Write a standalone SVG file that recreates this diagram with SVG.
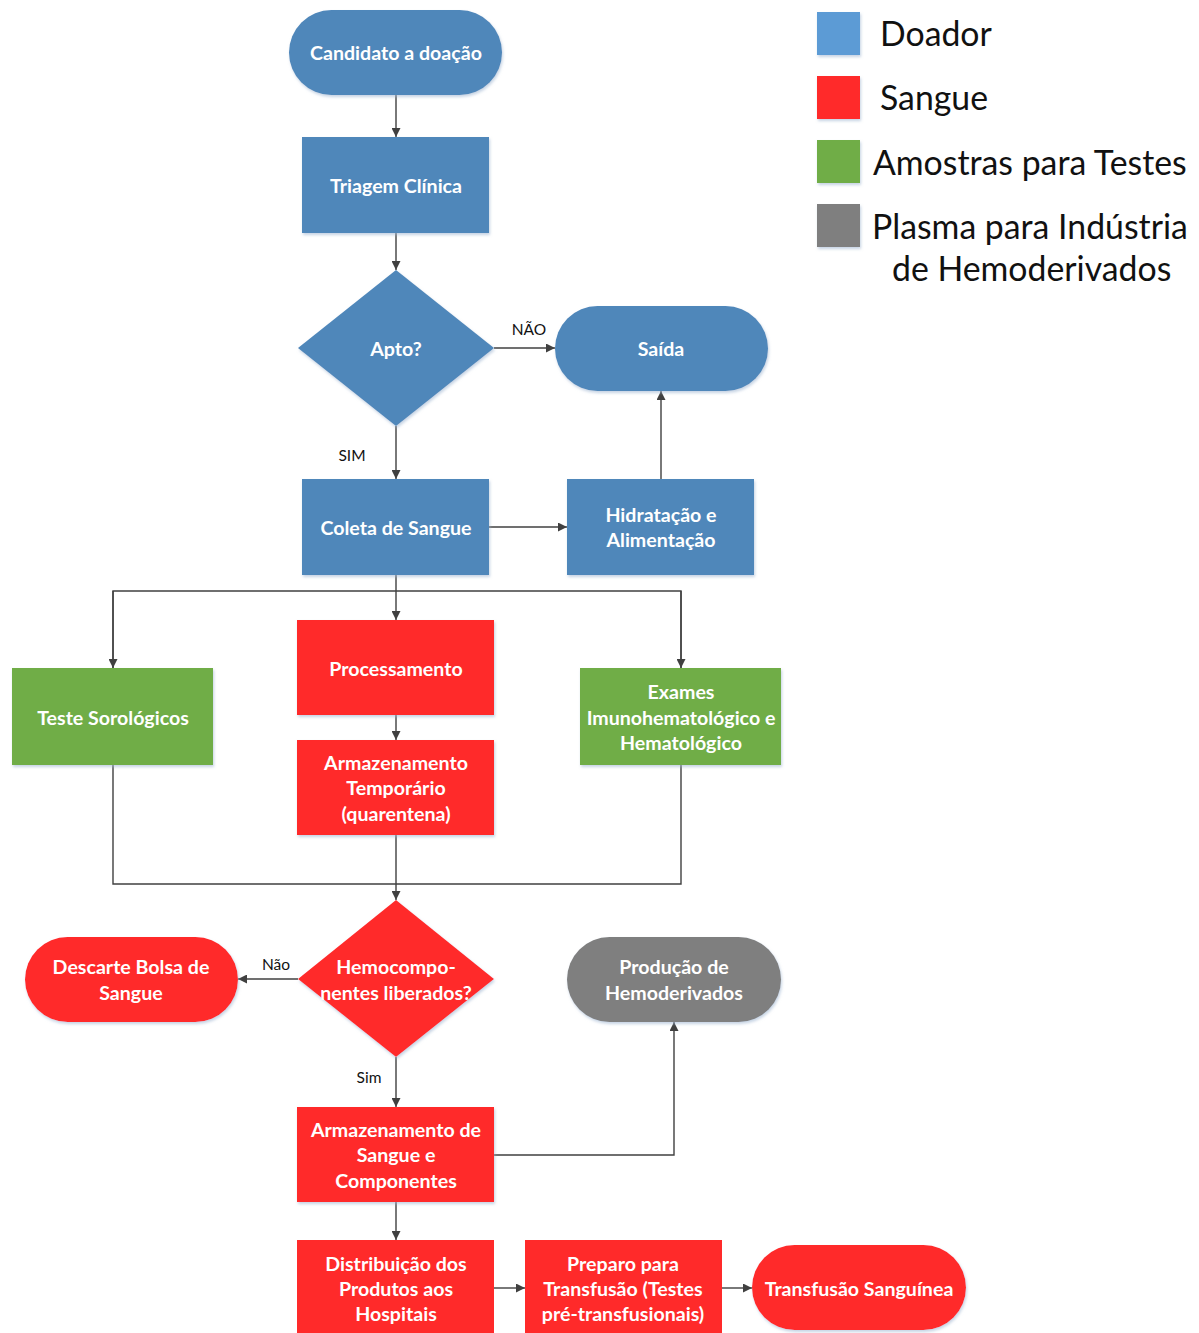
<svg xmlns="http://www.w3.org/2000/svg" width="1199" height="1333" viewBox="0 0 1199 1333">
<style>
.t{font-family:Lato,"Open Sans","Liberation Sans",sans-serif;font-weight:bold;font-size:19.6px;fill:#fff;text-anchor:middle;dominant-baseline:central}
.lbl{font-family:Lato,"Open Sans","Liberation Sans",sans-serif;font-size:15.5px;fill:#111;text-anchor:middle;dominant-baseline:central}
.lg{font-family:Lato,"Open Sans","Liberation Sans",sans-serif;font-size:33.8px;fill:#111;dominant-baseline:central}
.b{fill:#4F87BA}
.r{fill:#FF2A2A}
.g{fill:#70AD47}
.k{fill:#7F7F7F}
.c{fill:none;stroke:#404040;stroke-width:1.4}
.sh{filter:url(#shd)}
</style>
<defs>
<marker id="a" viewBox="0 0 10 10" refX="10" refY="5" markerWidth="9" markerHeight="9" markerUnits="userSpaceOnUse" orient="auto">
<path d="M0,0 L10,5 L0,10 z" fill="#404040"/>
</marker>
<filter id="shd" x="-10%" y="-10%" width="120%" height="125%">
<feDropShadow dx="1" dy="2" stdDeviation="1.5" flood-color="#9fb6d0" flood-opacity="0.6"/>
</filter>
</defs>
<rect width="1199" height="1333" fill="#fff"/>

<g id="connectors">
<path class="c" d="M396,95 V137" marker-end="url(#a)"/>
<path class="c" d="M396,233 V270" marker-end="url(#a)"/>
<path class="c" d="M494,348 H555" marker-end="url(#a)"/>
<path class="c" d="M396,426 V479" marker-end="url(#a)"/>
<path class="c" d="M489,527 H567" marker-end="url(#a)"/>
<path class="c" d="M661,479 V391" marker-end="url(#a)"/>
<path class="c" d="M396,575 V620" marker-end="url(#a)"/>
<path class="c" d="M113,668 V591 H681 V668" />
<path class="c" d="M113,591 V668" marker-end="url(#a)"/>
<path class="c" d="M681,591 V668" marker-end="url(#a)"/>
<path class="c" d="M396,715 V740" marker-end="url(#a)"/>
<path class="c" d="M113,765 V884 H681 V765"/>
<path class="c" d="M396,835 V900" marker-end="url(#a)"/>
<path class="c" d="M298,979 H238" marker-end="url(#a)"/>
<path class="c" d="M396,1057 V1107" marker-end="url(#a)"/>
<path class="c" d="M494,1155 H674 V1022" marker-end="url(#a)"/>
<path class="c" d="M396,1202 V1240" marker-end="url(#a)"/>
<path class="c" d="M494,1288 H525" marker-end="url(#a)"/>
<path class="c" d="M722,1288 H752" marker-end="url(#a)"/>
<text class="lbl" x="529" y="329">NÃO</text>
<text class="lbl" x="352" y="455">SIM</text>
<text class="lbl" x="276" y="964">Não</text>
<text class="lbl" x="369" y="1077">Sim</text>
</g>

<g id="candidato"><rect class="b sh" x="289" y="10" width="213" height="85" rx="42.5"/><text class="t" x="396" y="52">Candidato a doação</text></g>
<g id="triagem"><rect class="b sh" x="302" y="137" width="187" height="96"/><text class="t" x="396" y="185">Triagem Clínica</text></g>
<g id="apto"><polygon class="b sh" points="396,270 494,348 396,426 298,348"/><text class="t" x="396" y="348">Apto?</text></g>
<g id="saida"><rect class="b sh" x="555" y="306" width="213" height="85" rx="42.5"/><text class="t" x="661" y="348">Saída</text></g>
<g id="coleta"><rect class="b sh" x="302" y="479" width="187" height="96"/><text class="t" x="396" y="527">Coleta de Sangue</text></g>
<g id="hidratacao"><rect class="b sh" x="567" y="479" width="187" height="96"/><text class="t" x="661" y="514">Hidratação e</text><text class="t" x="661" y="539">Alimentação</text></g>

<g id="teste"><rect class="g sh" x="12" y="668" width="201" height="97"/><text class="t" x="113" y="717">Teste Sorológicos</text></g>
<g id="processamento"><rect class="r sh" x="297" y="620" width="197" height="95"/><text class="t" x="396" y="668">Processamento</text></g>
<g id="armtemp"><rect class="r sh" x="297" y="740" width="197" height="95"/><text class="t" x="396" y="762">Armazenamento</text><text class="t" x="396" y="787">Temporário</text><text class="t" x="396" y="813">(quarentena)</text></g>
<g id="exames"><rect class="g sh" x="580" y="668" width="201" height="97"/><text class="t" x="681" y="691">Exames</text><text class="t" x="681" y="717">Imunohematológico e</text><text class="t" x="681" y="742">Hematológico</text></g>

<g id="hemocomp"><polygon class="r sh" points="396,900 494,979 396,1057 298,979"/><text class="t" x="396" y="966">Hemocompo-</text><text class="t" x="396" y="992">nentes liberados?</text></g>
<g id="descarte"><rect class="r sh" x="25" y="937" width="213" height="85" rx="42.5"/><text class="t" x="131" y="966">Descarte Bolsa de</text><text class="t" x="131" y="992">Sangue</text></g>
<g id="producao"><rect class="k sh" x="567" y="937" width="214" height="85" rx="42.5"/><text class="t" x="674" y="966">Produção de</text><text class="t" x="674" y="992">Hemoderivados</text></g>
<g id="armsangue"><rect class="r sh" x="297" y="1107" width="197" height="95"/><text class="t" x="396" y="1129">Armazenamento de</text><text class="t" x="396" y="1154">Sangue e</text><text class="t" x="396" y="1180">Componentes</text></g>
<g id="distribuicao"><rect class="r" x="297" y="1240" width="197" height="95"/><text class="t" x="396" y="1263">Distribuição dos</text><text class="t" x="396" y="1288">Produtos aos</text><text class="t" x="396" y="1313">Hospitais</text></g>
<g id="preparo"><rect class="r" x="525" y="1240" width="197" height="95"/><text class="t" x="623" y="1263">Preparo para</text><text class="t" x="623" y="1288">Transfusão (Testes</text><text class="t" x="623" y="1313">pré-transfusionais)</text></g>
<g id="transfusao"><rect class="r sh" x="752" y="1245" width="214" height="85" rx="42.5"/><text class="t" x="859" y="1288">Transfusão Sanguínea</text></g>

<g id="legend">
<rect x="817" y="12" width="43" height="43" fill="#5B9BD5" class="sh"/><text class="lg" x="880" y="33">Doador</text>
<rect x="817" y="76" width="43" height="43" fill="#FF2A2A" class="sh"/><text class="lg" x="880" y="97">Sangue</text>
<rect x="817" y="140" width="43" height="43" fill="#70AD47" class="sh"/><text class="lg" x="873" y="162">Amostras para Testes</text>
<rect x="817" y="204" width="43" height="43" fill="#7F7F7F" class="sh"/><text class="lg" x="872" y="226">Plasma para Indústria</text><text class="lg" x="892" y="268">de Hemoderivados</text>
</g>
</svg>
